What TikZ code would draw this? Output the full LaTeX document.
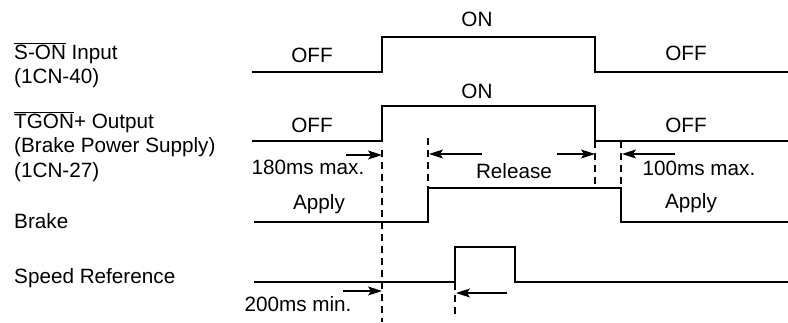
\documentclass[tikz,border=0pt]{standalone}
\usepackage{fontspec}
\setmainfont{Liberation Sans}
\usetikzlibrary{arrows.meta}
\tikzset{
	signal/.style={line width=1.5pt, line join=miter},
	marker/.style={line width=1.1pt, dash pattern=on 7pt off 5pt},
	arrow/.style={line width=1.3pt, -{Stealth[length=14pt,width=9pt,inset=3pt]}}
}
\newcommand{\ovl}[1]{$\overline{\mbox{#1}}$}

\begin{document}
\begin{tikzpicture}[x=1pt, y=-1pt,
		txt/.style={inner sep=0pt, anchor=base, font=\fontsize{20.7}{24.5}\selectfont},
		lbl/.style={txt, anchor=base west}
		]
		\useasboundingbox[fill=white] (0,0) rectangle (788,322);
		
		% signal names
		\node[lbl] (son1) at (14,59) {\ovl{S-ON} Input};
		\node[lbl] (son2) at (14,83) {(1CN-40)};
		\node[lbl] (tgon1) at (14,128) {\ovl{TGON}+ Output};
		\node[lbl] (tgon2) at (14,152) {(Brake Power Supply)};
		\node[lbl] (tgon3) at (14,177) {(1CN-27)};
		\node[lbl] (brake) at (14,228) {Brake};
		\node[lbl] (speed) at (14,283) {Speed Reference};
		
		% waveforms
		\draw[signal] (252,72) -- (382,72) -- (382,37) -- (595,37) -- (595,72) -- (788,72);
		\draw[signal] (252,141) -- (382,141) -- (382,106) -- (595,106) -- (595,141) -- (788,141);
		\draw[signal] (254,222) -- (428,222) -- (428,188) -- (621,188) -- (621,222) -- (788,222);
		\draw[signal] (254,282) -- (455,282) -- (455,247) -- (515,247) -- (515,282) -- (788,282);
		
		% state texts
		\node[txt] (son_off1) at (312,62) {OFF};
		\node[txt] (son_on) at (477,26) {ON};
		\node[txt] (son_off2) at (686,60) {OFF};
		\node[txt] (tgon_off1) at (312,132) {OFF};
		\node[txt] (tgon_on) at (477,98) {ON};
		\node[txt] (tgon_off2) at (686,132) {OFF};
		\node[txt] (apply1) at (319,209) {Apply};
		\node[txt] (release) at (514,178) {Release};
		\node[txt] (apply2) at (691,208) {Apply};
		
		% timing marks
		\coordinate (m1top) at (382,150);
		\coordinate (m1bot) at (382,322);
		\coordinate (m2top) at (428,138);
		\coordinate (m2bot) at (428,188);
		\coordinate (m3top) at (595,141);
		\coordinate (m3bot) at (595,188);
		\coordinate (m4top) at (621,141);
		\coordinate (m4bot) at (621,188);
		\coordinate (m5top) at (455,283);
		\coordinate (m5bot) at (455,314);
		\draw[marker] (m1top) -- (m1bot);
		\draw[marker] (m2top) -- (m2bot);
		\draw[marker] (m3top) -- (m3bot);
		\draw[marker] (m4top) -- (m4bot);
		\draw[marker] (m5top) -- (m5bot);
		
		% delays
		\coordinate (a180) at (346,155);
		\coordinate (h180) at (382,155);
		\coordinate (arel1) at (482,154);
		\coordinate (hrel1) at (429,154);
		\coordinate (arel2) at (557,154);
		\coordinate (hrel2) at (595,154);
		\coordinate (a100) at (675,154);
		\coordinate (h100) at (622,154);
		\coordinate (a200) at (343,291);
		\coordinate (h200) at (382,291);
		\coordinate (aref) at (507,293);
		\coordinate (href) at (456,293);
		\draw[arrow] (a180) -- (h180);
		\draw[arrow] (arel1) -- (hrel1);
		\draw[arrow] (arel2) -- (hrel2);
		\draw[arrow] (a100) -- (h100);
		\draw[arrow] (a200) -- (h200);
		\draw[arrow] (aref) -- (href);
		
		\node[txt] (t180) at (308,174) {180ms max.};
		\node[txt] (t100) at (699,175) {100ms max.};
		\node[txt] (t200) at (298,311) {200ms min.};
	\end{tikzpicture}
\end{document}
